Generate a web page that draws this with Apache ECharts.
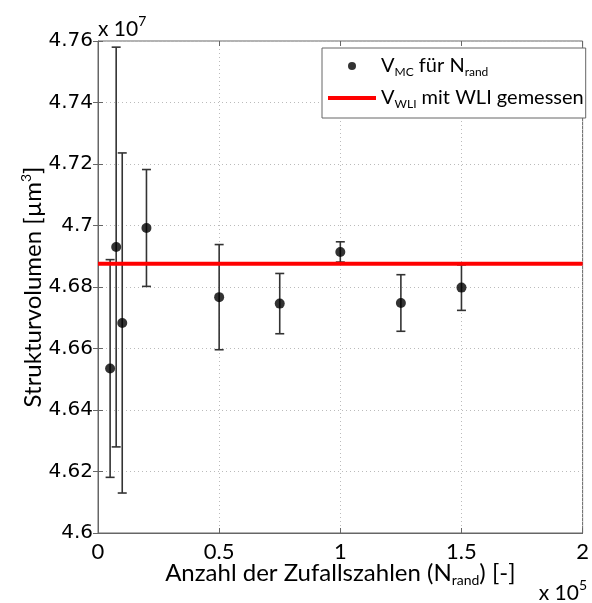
<!DOCTYPE html>
<html>
<head>
<meta charset="utf-8">
<script src="https://cdn.jsdelivr.net/npm/echarts@6/dist/echarts.min.js"></script>
<style>html,body{margin:0;padding:0;background:#fff}#c{width:592px;height:603px}</style>
</head>
<body>
<div id="c"></div>
<script>
// Data (x: number of random numbers, y: volume in units of 1e7 µm³)
var nRand = [5000, 7500, 10000, 20000, 50000, 75000, 100000, 125000, 150000];
var vMC = [4.6535, 4.6930, 4.6683, 4.6992, 4.6767, 4.6746, 4.6914, 4.6748, 4.6798];
var vErr = [0.0354, 0.0650, 0.0553, 0.0190, 0.0171, 0.0098, 0.0033, 0.0092, 0.0074];
var vWLI = 4.6876;
var xTicks = [0, 50000, 100000, 150000, 200000];
var yTicks = [4.6, 4.62, 4.64, 4.66, 4.68, 4.7, 4.72, 4.74, 4.76];

var FONT = 'Lato';
var points = nRand.map(function (n, i) { return [n, vMC[i]]; });
var bars = nRand.map(function (n, i) { return [n, vMC[i] - vErr[i], vMC[i] + vErr[i]]; });

var chart = echarts.init(document.getElementById('c'), null, {renderer: 'canvas'});
var nT = {fontSize: 24, fontFamily: FONT, color: '#000', lineHeight: 28};
var subT = {fontSize: 14, fontFamily: FONT, color: '#000', verticalAlign: 'bottom', lineHeight: 12};
var supT = {fontSize: 14, fontFamily: FONT, color: '#000', verticalAlign: 'top', lineHeight: 12};

chart.setOption({
  animation: false,
  grid: {left: 98, top: 41, right: 4, bottom: 70, show: true, borderColor: '#666', borderWidth: 1},
  legend: {
    orient: 'vertical', left: 322, top: 48,
    data: [
      {name: 'VMC', icon: 'circle', itemStyle: {color: '#000'}},
      {name: 'VWLI', icon: 'path://M0,0h48v4h-48z', itemStyle: {color: '#ff0000'}}
    ],
    backgroundColor: '#fff', borderColor: '#666', borderWidth: 1,
    padding: [8, 2, 8, 6], itemGap: 10, itemWidth: 48, itemHeight: 8, itemTextGap: 5,
    selectedMode: false,
    formatter: function (name) {
      return name === 'VMC' ? '{n|V}{s|MC}{n| für N}{s|rand}' : '{n|V}{s|WLI}{n| mit WLI gemessen}';
    },
    textStyle: {rich: {
      n: {fontSize: 20, fontFamily: FONT, color: '#000', lineHeight: 24},
      s: {fontSize: 12, fontFamily: FONT, color: '#000', verticalAlign: 'bottom', lineHeight: 10}
    }}
  },
  xAxis: [{
    type: 'value', min: 0, max: 200000, interval: 50000,
    name: '{n|Anzahl der Zufallszahlen (N}{s|rand}{n|) [-]}',
    nameLocation: 'middle', nameGap: 26, nameMoveOverlap: false,
    nameTextStyle: {rich: {n: nT, s: subT}},
    axisLine: {show: true, lineStyle: {color: '#666'}},
    axisTick: {show: true, inside: true, length: 5, lineStyle: {color: '#666'}},
    axisLabel: {color: '#000', fontSize: 22, fontFamily: FONT, margin: 8,
      formatter: function (v) { return String(v / 100000); }},
    splitLine: {show: true, lineStyle: {color: '#bbb', type: [1, 3]}}
  }, {
    type: 'value', position: 'top', min: 0, max: 200000, interval: 50000,
    axisLine: {show: false}, axisTick: {show: true, inside: true, length: 5, lineStyle: {color: '#666'}},
    axisLabel: {show: false}, splitLine: {show: false}
  }],
  yAxis: [{
    type: 'value', min: 4.6, max: 4.76, interval: 0.02,
    name: '{n|Strukturvolumen [µm}{p|3}{n|]}',
    nameLocation: 'middle', nameGap: 51, nameRotate: 90, nameMoveOverlap: false,
    nameTextStyle: {rich: {n: nT, p: supT}},
    axisLine: {show: true, lineStyle: {color: '#666'}},
    axisTick: {show: true, inside: true, length: 5, lineStyle: {color: '#666'}},
    axisLabel: {color: '#000', fontSize: 20, fontFamily: 'DejaVu Sans', margin: 5,
      formatter: function (v) { return String(parseFloat(v.toFixed(2))); }},
    splitLine: {show: true, lineStyle: {color: '#bbb', type: [1, 3]}}
  }, {
    type: 'value', position: 'right', min: 4.6, max: 4.76, interval: 0.02,
    axisLine: {show: false}, axisTick: {show: true, inside: true, length: 5, lineStyle: {color: '#666'}},
    axisLabel: {show: false}, splitLine: {show: false}
  }],
  graphic: [
    {type: 'text', left: 98, top: 14, style: {text: '{n|x 10}{p|7}', rich: {n: {fontSize: 21, fontFamily: FONT, color: '#000', lineHeight: 30}, p: {fontSize: 14, fontFamily: FONT, color: '#000', verticalAlign: 'top', lineHeight: 14}}}},
    {type: 'text', right: 5, top: 578, style: {text: '{n|x 10}{p|5}', rich: {n: {fontSize: 21, fontFamily: FONT, color: '#000', lineHeight: 30}, p: {fontSize: 14, fontFamily: FONT, color: '#000', verticalAlign: 'top', lineHeight: 14}}}}
  ],
  series: [
    {
      name: 'errbar', type: 'custom', data: bars, z: 2,
      renderItem: function (params, api) {
        var x = api.value(0);
        var lo = api.coord([x, api.value(1)]);
        var hi = api.coord([x, api.value(2)]);
        var w = 4.5;
        var st = {stroke: '#333', lineWidth: 1.6};
        return {type: 'group', children: [
          {type: 'line', shape: {x1: lo[0], y1: lo[1], x2: hi[0], y2: hi[1]}, style: st},
          {type: 'line', shape: {x1: lo[0] - w, y1: lo[1], x2: lo[0] + w, y2: lo[1]}, style: st},
          {type: 'line', shape: {x1: hi[0] - w, y1: hi[1], x2: hi[0] + w, y2: hi[1]}, style: st}
        ]};
      },
      encode: {x: 0, y: [1, 2]}
    },
    {
      name: 'VMC', type: 'scatter', data: points, symbol: 'circle', symbolSize: 10,
      itemStyle: {color: '#000'}, z: 3
    },
    {
      name: 'VWLI', type: 'line', data: [[0, vWLI], [200000, vWLI]], showSymbol: false, symbol: 'none',
      lineStyle: {color: '#ff0000', width: 4}, itemStyle: {color: '#ff0000'}, z: 4
    }
  ]
});
</script>
</body>
</html>
